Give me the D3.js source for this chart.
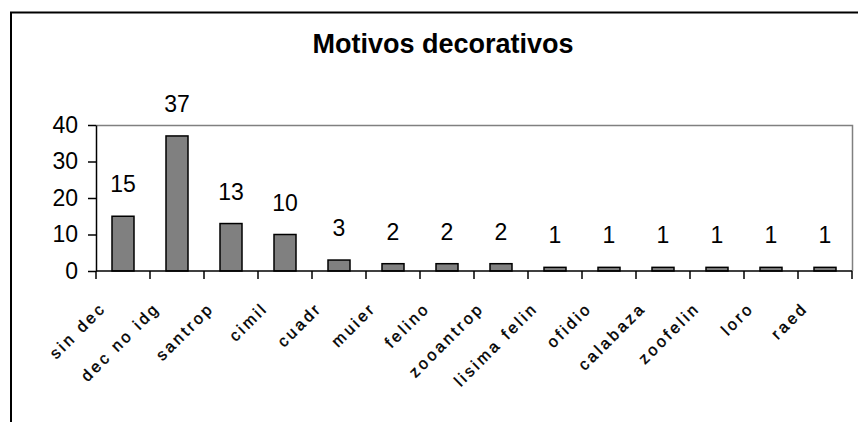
<!DOCTYPE html>
<html><head><meta charset="utf-8">
<script src="https://cdn.jsdelivr.net/npm/d3@7"></script>
<style>body{margin:0;background:#fff}svg{display:block}</style>
</head><body>
<svg id="c" width="858" height="422"></svg>
<script>
const title = "Motivos decorativos";
const categories = ["sin dec","dec no idg","santrop","cimil","cuadr","muier","felino","zooantrop","lisima felin","ofidio","calabaza","zoofelin","loro","raed"];
const values = [15,37,13,10,3,2,2,2,1,1,1,1,1,1];
const yTicks = [0,10,20,30,40];

const svg = d3.select("#c");
const L = 96, R = 852, T = 125, B = 271;
const FONT = "Arial, 'Liberation Sans', sans-serif";

// outer frame
svg.append("path").attr("d","M11,423V12.5H858").attr("fill","none").attr("stroke","#000").attr("stroke-width",2);

svg.append("text").attr("x",443).attr("y",53).attr("text-anchor","middle")
  .attr("font-family",FONT).attr("font-weight","bold").attr("font-size",27)
  .text(title);

const x = d3.scaleBand().domain(categories).range([L,R]).paddingInner(0).paddingOuter(0);
const y = d3.scaleLinear().domain([0,40]).range([B,T]);

// plot border top/right gray
svg.append("path").attr("d",`M${L},${T+0.5}H${R+0.5}V${B}`).attr("fill","none").attr("stroke","#808080").attr("stroke-width",1.5);

// bars
const bw = 22;
svg.selectAll("rect.bar").data(values).join("rect").attr("class","bar")
  .attr("x",(d,i)=>x(categories[i])+x.bandwidth()/2-bw/2)
  .attr("y",d=>y(d)).attr("width",bw).attr("height",d=>B-y(d))
  .attr("fill","#808080").attr("stroke","#000").attr("stroke-width",1.5);

// data labels
svg.selectAll("text.lbl").data(values).join("text").attr("class","lbl")
  .attr("x",(d,i)=>x(categories[i])+x.bandwidth()/2)
  .attr("y",d=>y(d)-24).attr("text-anchor","middle")
  .attr("font-family",FONT).attr("font-size",23)
  .text(d=>d);

// y axis
const ya = svg.append("g").attr("transform",`translate(${L},0)`)
  .call(d3.axisLeft(y).tickValues(yTicks).tickSize(8).tickPadding(10).tickSizeOuter(0));
ya.select(".domain").attr("stroke","#000").attr("stroke-width",1.5);
ya.selectAll(".tick line").attr("stroke","#000").attr("stroke-width",1.5);
ya.selectAll(".tick text").attr("font-family",FONT).attr("font-size",23).attr("fill","#000");

// x axis
const xa = svg.append("g").attr("transform",`translate(0,${B})`)
  .call(d3.axisBottom(x).tickSize(0).tickFormat(""));
xa.select(".domain").attr("d",`M${L},0H${R}`).attr("stroke","#000").attr("stroke-width",1.5);
xa.selectAll(".tick").remove();
const bounds = d3.range(categories.length+1).map(i=>L+i*x.bandwidth());
xa.selectAll("line.xt").data(bounds).join("line").attr("class","xt")
  .attr("x1",d=>d).attr("x2",d=>d).attr("y1",0).attr("y2",8).attr("stroke","#000").attr("stroke-width",1.5);

// x labels
xa.selectAll("text.xl").data(categories).join("text").attr("class","xl")
  .attr("transform",d=>`translate(${x(d)+x.bandwidth()/2-16},${38}) rotate(-45)`)
  .attr("text-anchor","end").attr("fill","#000")
  .attr("font-family",FONT).attr("font-size",16).attr("letter-spacing",3)
  .attr("stroke","#000").attr("stroke-width",0.4)
  .text(d=>d);
</script>
</body></html>
